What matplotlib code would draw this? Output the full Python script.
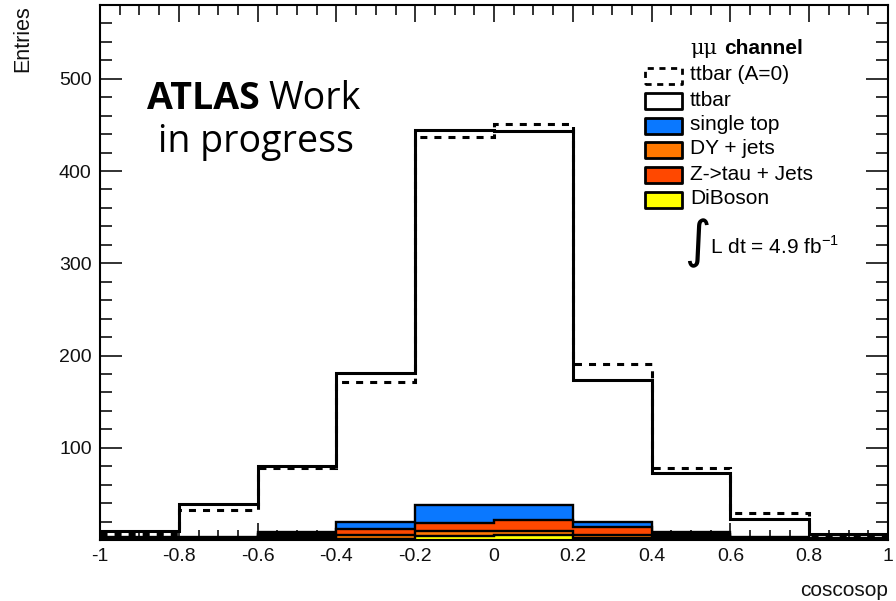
import matplotlib
matplotlib.use('Agg')
import matplotlib.pyplot as plt
import numpy as np
from matplotlib.patches import Rectangle
from matplotlib.ticker import MultipleLocator, FixedLocator

# ---------------- data ----------------
edges = [-1.0, -0.8, -0.6, -0.4, -0.2, 0.0, 0.2, 0.4, 0.6, 0.8, 1.0]
diboson    = [0.6, 0.6, 1.8, 1.5, 4.5, 5.0, 2.0, 1.8, 0.6, 0.4]
dy_jets    = [1.0, 1.0, 2.2, 3.5, 5.5, 5.0, 3.0, 2.2, 1.0, 0.6]
ztau_jets  = [1.0, 1.0, 2.7, 7.0, 8.0, 12.0, 8.7, 2.7, 1.0, 0.6]
single_top = [1.0, 1.0, 2.3, 7.5, 20.0, 16.0, 5.5, 2.3, 1.0, 0.6]
ttbar      = [10, 39, 80, 181, 445, 443, 174, 73, 23, 6.5]   # top of stack
ttbar_a0   = [7, 33, 78, 171, 437, 451, 191, 78, 29, 5]
xticks = [-1, -0.8, -0.6, -0.4, -0.2, 0, 0.2, 0.4, 0.6, 0.8, 1]
xticklabels = ['-1', '-0.8', '-0.6', '-0.4', '-0.2', '0', '0.2', '0.4', '0.6', '0.8', '1']
yticks = [100, 200, 300, 400, 500]
bg_names = ['single top', 'DY + jets', 'Z->tau + Jets', 'DiBoson']
bg_colors = ['#0a78ff', '#ff7800', '#ff4800', '#ffff00']

W, H = 896, 601
fig = plt.figure(figsize=(W / 100, H / 100), dpi=100)
def fx(px): return px / W
def fy(py): return 1 - py / H

L, R, T, B = 100, 888, 5, 540
ax = fig.add_axes([fx(L), fy(B), fx(R) - fx(L), fy(T) - fy(B)])

LW = 2.2
# ttbar (stack total) white fill
ax.stairs(ttbar, edges, baseline=0, fill=True, facecolor='white', edgecolor='none', zorder=1)

# background stack (cumulative, drawn from top down)
layers = [diboson, dy_jets, ztau_jets, single_top]
cum = np.cumsum(np.array(layers, dtype=float), axis=0)  # cum[0]=diboson ... cum[3]=all
stack_order = [(cum[3], bg_colors[0]), (cum[2], bg_colors[2]), (cum[1], bg_colors[1]), (cum[0], bg_colors[3])]
z = 2
for vals, col in stack_order:
    ax.stairs(vals, edges, baseline=0, fill=True, facecolor=col, edgecolor='none', zorder=z)
    ax.stairs(vals, edges, baseline=0, fill=False, color='black', lw=1.7, zorder=z + 0.5)
    z += 1

# ttbar outline
ax.stairs(ttbar, edges, baseline=0, fill=False, color='black', lw=LW, zorder=10)
# ttbar A=0 dashed
ax.stairs(ttbar_a0, edges, baseline=None, fill=False, color='black', lw=LW,
          linestyle=(0, (2.3, 2.3)), zorder=11)

ax.set_xlim(-1, 1)
ax.set_ylim(0, 580)
for s in ax.spines.values():
    s.set_linewidth(1.5)
    s.set_zorder(20)

ax.xaxis.set_major_locator(FixedLocator(xticks))
ax.set_xticklabels(xticklabels)
ax.xaxis.set_minor_locator(MultipleLocator(0.05))
ax.set_yticks(yticks)
ax.yaxis.set_minor_locator(MultipleLocator(20))
ax.tick_params(axis='both', which='both', direction='in', top=True, right=True, width=1.3, color='#222222')
ax.tick_params(axis='x', which='major', length=12, pad=6, labelsize=14)
ax.tick_params(axis='x', which='minor', length=7)
ax.tick_params(axis='y', which='major', length=16, pad=6, labelsize=14)
ax.tick_params(axis='y', which='minor', length=8.5)
for lab in ax.get_xticklabels() + ax.get_yticklabels():
    lab.set_fontfamily('Liberation Sans')
    lab.set_color('#111111')

# axis titles
fig.text(fx(23), fy(5), 'Entries', rotation=90, ha='center', va='top',
         fontsize=15.5, family='Liberation Sans', color='#111111')
fig.text(fx(888), fy(591), 'coscosop', ha='right', va='center',
         fontsize=15, family='Liberation Sans', color='#111111')

# ATLAS label
afs = 27
fig.text(fx(147), fy(109), 'ATLAS', ha='left', va='baseline', fontsize=afs,
         family='Open Sans', weight='bold')
fig.text(fx(268), fy(109), 'Work', ha='left', va='baseline', fontsize=afs,
         family='Open Sans')
fig.text(fx(158), fy(152), 'in progress', ha='left', va='baseline', fontsize=afs,
         family='Open Sans')

# legend
lfs = 15
fig.text(fx(690), fy(49), 'μμ', ha='left', va='center', fontsize=lfs, family='DejaVu Serif')
fig.text(fx(724), fy(49), 'channel', ha='left', va='center', fontsize=lfs,
         family='Liberation Sans', weight='bold')
box_x0, box_x1 = 645, 682
rows = [76, 101, 126, 150, 175, 200]
labels = ['ttbar (A=0)', 'ttbar'] + bg_names
faces = ['white', 'white'] + bg_colors
styles = [(0, (2.2, 2.0)), 'solid', 'solid', 'solid', 'solid', 'solid']
for yc, lab, fc, ls in zip(rows, labels, faces, styles):
    r = Rectangle((fx(box_x0), fy(yc + 8)), fx(box_x1) - fx(box_x0), fy(yc - 8) - fy(yc + 8),
                  transform=fig.transFigure, facecolor=fc, edgecolor='black', lw=2.0,
                  linestyle=ls, joinstyle='round')
    fig.add_artist(r)
    fig.text(fx(690), fy(yc - 1), lab, ha='left', va='center', fontsize=lfs, family='Liberation Sans')

fig.text(fx(697), fy(243), r'$\int$', ha='center', va='center', fontsize=26)
fig.text(fx(710), fy(246), r'L dt = 4.9 fb$^{\mathregular{-1}}$', ha='left', va='center',
         fontsize=lfs, family='Liberation Sans')

fig.savefig('out.png', dpi=100)
